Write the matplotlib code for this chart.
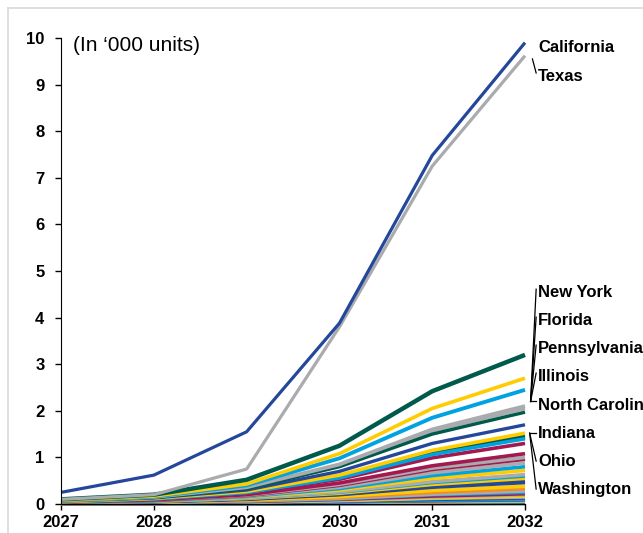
import matplotlib.pyplot as plt
from matplotlib.lines import Line2D

plt.rcParams['font.family'] = ['Liberation Sans', 'DejaVu Sans']

# years on the x axis
anos = [2027, 2028, 2029, 2030, 2031, 2032]

# colours used in the chart
azul = '#24479b'
cinza = '#a9abae'
verde = '#005a4b'
amarelo = '#ffcc00'
celeste = '#00a3e0'
bordo = '#a3194f'
laranja = '#f28c28'

# labelled states (thousand units)
california = [0.25, 0.62, 1.55, 3.88, 7.48, 9.90]
texas = [0.10, 0.20, 0.75, 3.80, 7.25, 9.62]
new_york = [0.10, 0.20, 0.52, 1.25, 2.42, 3.20]
florida = [0.08, 0.17, 0.43, 1.08, 2.05, 2.70]
pennsylvania = [0.08, 0.16, 0.40, 0.98, 1.85, 2.45]
illinois = [0.07, 0.15, 0.36, 0.85, 1.60, 2.10]
north_carolina = [0.07, 0.14, 0.33, 0.80, 1.50, 1.97]
indiana = [0.06, 0.13, 0.30, 0.70, 1.30, 1.70]
ohio = [0.05, 0.12, 0.27, 0.62, 1.15, 1.52]
washington = [0.05, 0.11, 0.25, 0.56, 1.06, 1.40]

# other states
outros_nomes = ['New Jersey', 'Georgia', 'Virginia', 'Michigan', 'Arizona',
                'Massachusetts', 'Tennessee', 'Maryland', 'Colorado', 'Minnesota',
                'Wisconsin', 'Missouri', 'South Carolina', 'Alabama', 'Louisiana',
                'Kentucky', 'Oregon', 'Oklahoma', 'Connecticut', 'Utah',
                'Iowa', 'Nevada', 'Arkansas', 'Mississippi', 'Kansas',
                'Nebraska', 'New Mexico', 'Idaho', 'West Virginia', 'Hawaii',
                'New Hampshire', 'Maine', 'Montana', 'Rhode Island', 'Delaware']
outros_cores = [cinza, verde, celeste, bordo, bordo,
                cinza, bordo, cinza, celeste, amarelo,
                cinza, celeste, amarelo, azul, azul,
                amarelo, laranja, cinza, celeste, bordo,
                cinza, amarelo, cinza, azul, celeste,
                bordo, cinza, amarelo, celeste, azul,
                cinza, verde, celeste, bordo, verde]
outros_valores = [
    [0.07, 0.15, 0.35, 0.83, 1.57, 2.05],
    [0.05, 0.12, 0.26, 0.60, 1.12, 1.46],
    [0.05, 0.11, 0.25, 0.57, 1.08, 1.42],
    [0.05, 0.10, 0.24, 0.53, 0.99, 1.30],
    [0.04, 0.09, 0.20, 0.45, 0.82, 1.08],
    [0.04, 0.09, 0.19, 0.42, 0.77, 1.00],
    [0.04, 0.08, 0.18, 0.40, 0.74, 0.96],
    [0.04, 0.08, 0.17, 0.36, 0.67, 0.88],
    [0.03, 0.07, 0.16, 0.33, 0.61, 0.80],
    [0.03, 0.07, 0.15, 0.30, 0.55, 0.72],
    [0.03, 0.06, 0.13, 0.26, 0.48, 0.63],
    [0.03, 0.06, 0.13, 0.25, 0.46, 0.60],
    [0.03, 0.06, 0.12, 0.23, 0.42, 0.55],
    [0.02, 0.05, 0.11, 0.21, 0.38, 0.50],
    [0.02, 0.05, 0.10, 0.20, 0.36, 0.46],
    [0.02, 0.04, 0.09, 0.16, 0.29, 0.38],
    [0.02, 0.04, 0.08, 0.14, 0.25, 0.33],
    [0.02, 0.03, 0.07, 0.12, 0.21, 0.28],
    [0.02, 0.03, 0.06, 0.11, 0.20, 0.25],
    [0.01, 0.03, 0.05, 0.10, 0.17, 0.22],
    [0.01, 0.03, 0.05, 0.09, 0.15, 0.20],
    [0.01, 0.02, 0.04, 0.08, 0.13, 0.17],
    [0.01, 0.02, 0.04, 0.07, 0.12, 0.15],
    [0.01, 0.02, 0.03, 0.06, 0.10, 0.13],
    [0.01, 0.02, 0.03, 0.05, 0.08, 0.10],
    [0.01, 0.01, 0.03, 0.05, 0.07, 0.09],
    [0.01, 0.01, 0.02, 0.04, 0.06, 0.07],
    [0.01, 0.01, 0.02, 0.04, 0.05, 0.06],
    [0.01, 0.01, 0.02, 0.03, 0.04, 0.05],
    [0.00, 0.01, 0.02, 0.03, 0.04, 0.04],
    [0.00, 0.01, 0.01, 0.02, 0.03, 0.03],
    [0.00, 0.01, 0.01, 0.02, 0.02, 0.03],
    [0.00, 0.00, 0.01, 0.01, 0.02, 0.02],
    [0.00, 0.00, 0.01, 0.01, 0.01, 0.02],
    [0.00, 0.00, 0.00, 0.01, 0.01, 0.01],
]

# labelled series: name, values, colour, line width
rotulados = [
    ('California', california, azul, 2.3),
    ('Texas', texas, cinza, 2.3),
    ('New York', new_york, verde, 3.2),
    ('Florida', florida, amarelo, 2.6),
    ('Pennsylvania', pennsylvania, celeste, 2.8),
    ('Illinois', illinois, cinza, 2.8),
    ('North Carolina', north_carolina, verde, 2.4),
    ('Indiana', indiana, azul, 2.4),
    ('Ohio', ohio, amarelo, 2.6),
    ('Washington', washington, celeste, 2.6),
]

# label positions on the right (value units)
rotulo_y = {'California': 9.79, 'Texas': 9.18, 'New York': 4.53, 'Florida': 3.93,
            'Pennsylvania': 3.33, 'Illinois': 2.73, 'North Carolina': 2.12,
            'Indiana': 1.52, 'Ohio': 0.92, 'Washington': 0.32}

fig = plt.figure(figsize=(6.43, 5.33), dpi=100)
ax = fig.add_axes([0.095, 0.0544, 0.7215, 0.8743])

#Plot: outros estados primeiro, depois os rotulados por cima
for nome, cor, vals in zip(outros_nomes[::-1], outros_cores[::-1], outros_valores[::-1]):
    ax.plot(anos, vals, color=cor, lw=2.6, solid_capstyle='butt', clip_on=False)
for nome, vals, cor, lw in rotulados[::-1]:
    ax.plot(anos, vals, color=cor, lw=lw, solid_capstyle='butt', clip_on=False)

# state names on the right
for nome, vals, cor, lw in rotulados:
    ax.text(2032.14, rotulo_y[nome], nome, fontsize=12, fontweight='bold',
            va='center', ha='left', clip_on=False)

# leader lines
grupo1 = ['New York', 'Florida', 'Pennsylvania', 'Illinois', 'North Carolina']
grupo2 = ['Indiana', 'Ohio', 'Washington']
for nome in grupo1:
    ax.plot([2032.06, 2032.12], [2.2, rotulo_y[nome] + 0.08], color='black', lw=0.9,
            clip_on=False)
for nome in grupo2:
    ax.plot([2032.05, 2032.12], [1.52, rotulo_y[nome]], color='black', lw=0.9,
            clip_on=False)
ax.plot([2032.08, 2032.12], [9.55, 9.25], color='black', lw=0.9, clip_on=False)

ax.text(2027.13, 9.83, '(In \u2018000 units)', fontsize=15, va='center', ha='left')

ax.set_xlim(2027, 2032)
ax.set_ylim(0, 10)
ax.set_xticks(anos)
ax.set_yticks(range(0, 11))
ax.tick_params(direction='out', length=4, width=1, labelsize=12)
ax.tick_params(axis='y', pad=8)
ax.tick_params(axis='x', pad=4)
for lab in ax.get_xticklabels() + ax.get_yticklabels():
    lab.set_fontweight('bold')
ax.spines['top'].set_visible(False)
ax.spines['right'].set_visible(False)

# light frame around the chart
fig.add_artist(Line2D([8 / 643, 8 / 643], [0, 1 - 8 / 533], color='#d9d9d9', lw=1.2))
fig.add_artist(Line2D([8 / 643, 1], [1 - 8 / 533, 1 - 8 / 533], color='#d9d9d9', lw=1.2))

fig.savefig('out.png', dpi=100)
